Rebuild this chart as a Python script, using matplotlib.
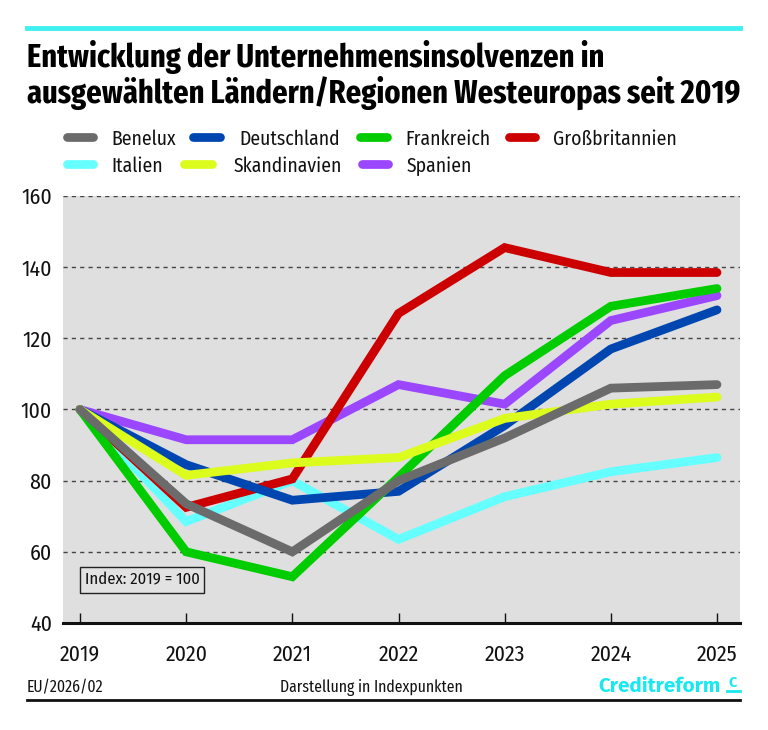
import matplotlib
matplotlib.use("Agg")
import matplotlib.pyplot as plt
from matplotlib import font_manager
from matplotlib.lines import Line2D

years = [2019, 2020, 2021, 2022, 2023, 2024, 2025]
benelux = [100, 73.5, 60, 80, 92, 106, 107]
deutschland = [100, 84.5, 74.5, 77, 95.5, 117, 128]
frankreich = [100, 60, 53, 81, 109.5, 129, 134]
grossbritannien = [100, 72.5, 80.5, 127, 145.5, 138.5, 138.5]
italien = [100, 68.5, 80, 63.5, 75.5, 82.5, 86.5]
skandinavien = [100, 81.5, 85, 86.5, 97.5, 101.5, 103.5]
spanien = [100, 91.5, 91.5, 107, 101.5, 125, 132]

names = ["Benelux", "Deutschland", "Frankreich", "Großbritannien",
         "Italien", "Skandinavien", "Spanien"]
series = [benelux, deutschland, frankreich, grossbritannien,
          italien, skandinavien, spanien]
colors = ["#6b6b6b", "#0046b0", "#00cc00", "#cc0000",
          "#66ffff", "#dcfc1e", "#9b47ff"]
zorders = [9, 6, 7, 5, 4, 8, 3]
yticks = [40, 60, 80, 100, 120, 140, 160]


def pick(cands):
    for c in cands:
        try:
            font_manager.findfont(font_manager.FontProperties(family=c),
                                  fallback_to_default=False)
            return c
        except Exception:
            pass
    return "DejaVu Sans"


cond = ["Fira Sans Condensed", "Fira Sans Extra Condensed",
        "Roboto Condensed", "PT Sans Narrow", "Encode Sans Condensed",
        "Liberation Sans Narrow", "Lato"]
title_font = pick(["Fira Sans Extra Condensed", "Fira Sans Condensed",
                   "Roboto Condensed", "PT Sans Narrow",
                   "Liberation Sans Narrow", "Lato"])
body_font = pick(cond)
logo_font = pick(["Fira Sans", "Lato", "DejaVu Sans"])

W, H = 768, 730
fig = plt.figure(figsize=(W / 100, H / 100), dpi=100)
fig.patch.set_facecolor("white")
renderer = fig.canvas.get_renderer()


def fx(px):
    return px / W


def fy(py):
    return 1 - py / H


def fit(t, target_px):
    w = t.get_window_extent(renderer).width
    t.set_fontsize(t.get_fontsize() * target_px / w)
    return t


def fit_size(text, family, target_px, weight="normal"):
    t = fig.text(0, 0, text, fontsize=12, family=family, fontweight=weight)
    w = t.get_window_extent(renderer).width
    t.remove()
    return 12 * target_px / w


ax = fig.add_axes([fx(63), fy(623), fx(740) - fx(63), fy(196) - fy(623)])
ax.set_facecolor("#dfdfdf")
ax.set_xlim(2019 - 17 / 106.17, 2025 + 23 / 106.17)
ax.set_ylim(40, 160)

for name, vals, col, z in zip(names, series, colors, zorders):
    ax.plot(years, vals, color=col, lw=6.3, solid_capstyle="round",
            solid_joinstyle="miter", zorder=z)

tick_fs = fit_size("2019", body_font, 40)
ax.set_yticks(yticks)
ax.set_xticks(years)
ax.grid(axis="y", color="#444444", linestyle=(0, (3, 3)), lw=1.0, zorder=1)
for s in ["top", "right", "left"]:
    ax.spines[s].set_visible(False)
ax.spines["bottom"].set_linewidth(2.2)
ax.spines["bottom"].set_color("#111111")
ax.tick_params(axis="y", length=0, pad=8, labelsize=tick_fs)
ax.tick_params(axis="x", direction="in", length=7, width=1.0, pad=15,
               labelsize=tick_fs, color="#111111")
for lab in ax.get_xticklabels() + ax.get_yticklabels():
    lab.set_fontfamily(body_font)
    lab.set_color("#111111")

# Index box
ti = fig.text(fx(142), fy(580), "Index: 2019 = 100", ha="center",
              va="center", fontsize=10, family=body_font, color="#111111",
              zorder=20,
              bbox=dict(boxstyle="square,pad=0.3", fc="#e2e2e2",
                        ec="#222222", lw=1.0))
fit(ti, 115)

# Top cyan rule
fig.add_artist(Line2D([fx(27), fx(740)], [fy(28), fy(28)], color="#3ff0f0",
                      lw=3.5, transform=fig.transFigure))

# Title
t1 = fig.text(fx(27), fy(67), "Entwicklung der Unternehmensinsolvenzen in",
              ha="left", va="baseline", fontsize=20, fontweight="bold",
              family=title_font, color="black")
t2 = fig.text(fx(27), fy(103),
              "ausgewählten Ländern/Regionen Westeuropas seit 2019",
              ha="left", va="baseline", fontsize=20, fontweight="bold",
              family=title_font, color="black")
w2 = t2.get_window_extent(renderer).width
scale = 713 / w2
t1.set_fontsize(20 * scale)
t2.set_fontsize(20 * scale)

# Legend (manual)
leg_fs = fit_size("Großbritannien", body_font, 124)
leg = [
    ("Benelux", 0, 63, 97, 111, 137),
    ("Deutschland", 1, 189, 224, 239, 137),
    ("Frankreich", 2, 356, 391, 405, 137),
    ("Großbritannien", 3, 505, 539, 553, 137),
    ("Italien", 4, 63, 97, 111, 164),
    ("Skandinavien", 5, 180, 216, 234, 164),
    ("Spanien", 6, 358, 392, 407, 164),
]
for lab, i, x0, x1, xt, yy in leg:
    fig.add_artist(Line2D([fx(x0 + 4), fx(x1 - 4)], [fy(yy), fy(yy)],
                          color=colors[i], lw=6.3, solid_capstyle="round",
                          transform=fig.transFigure))
    fig.text(fx(xt), fy(yy), lab, ha="left", va="center_baseline",
             fontsize=leg_fs, family=body_font, color="#111111")

# Footer
foot_fs = fit_size("Darstellung in Indexpunkten", body_font, 184)
fig.text(fx(27), fy(688), "EU/2026/02", ha="left", va="center",
         fontsize=foot_fs, family=body_font, color="#111111")
fig.text(fx(371), fy(688), "Darstellung in Indexpunkten", ha="center",
         va="center", fontsize=foot_fs, family=body_font, color="#111111")
tc = fig.text(fx(721), fy(692), "Creditreform", ha="right", va="baseline",
              fontsize=14, fontweight="bold", family=logo_font,
              color="#19e8f0")
fit(tc, 123)
fig.text(fx(733), fy(687), "C", ha="center", va="baseline", fontsize=10.5,
         fontweight="bold", family=logo_font, color="#19e8f0")
fig.add_artist(Line2D([fx(727), fx(740)], [fy(691), fy(691)],
                      color="#19e8f0", lw=2, transform=fig.transFigure))
fig.add_artist(Line2D([fx(27), fx(740)], [fy(700), fy(700)], color="#111111",
                      lw=2, transform=fig.transFigure))

fig.savefig("out.png", dpi=100, facecolor="white")
